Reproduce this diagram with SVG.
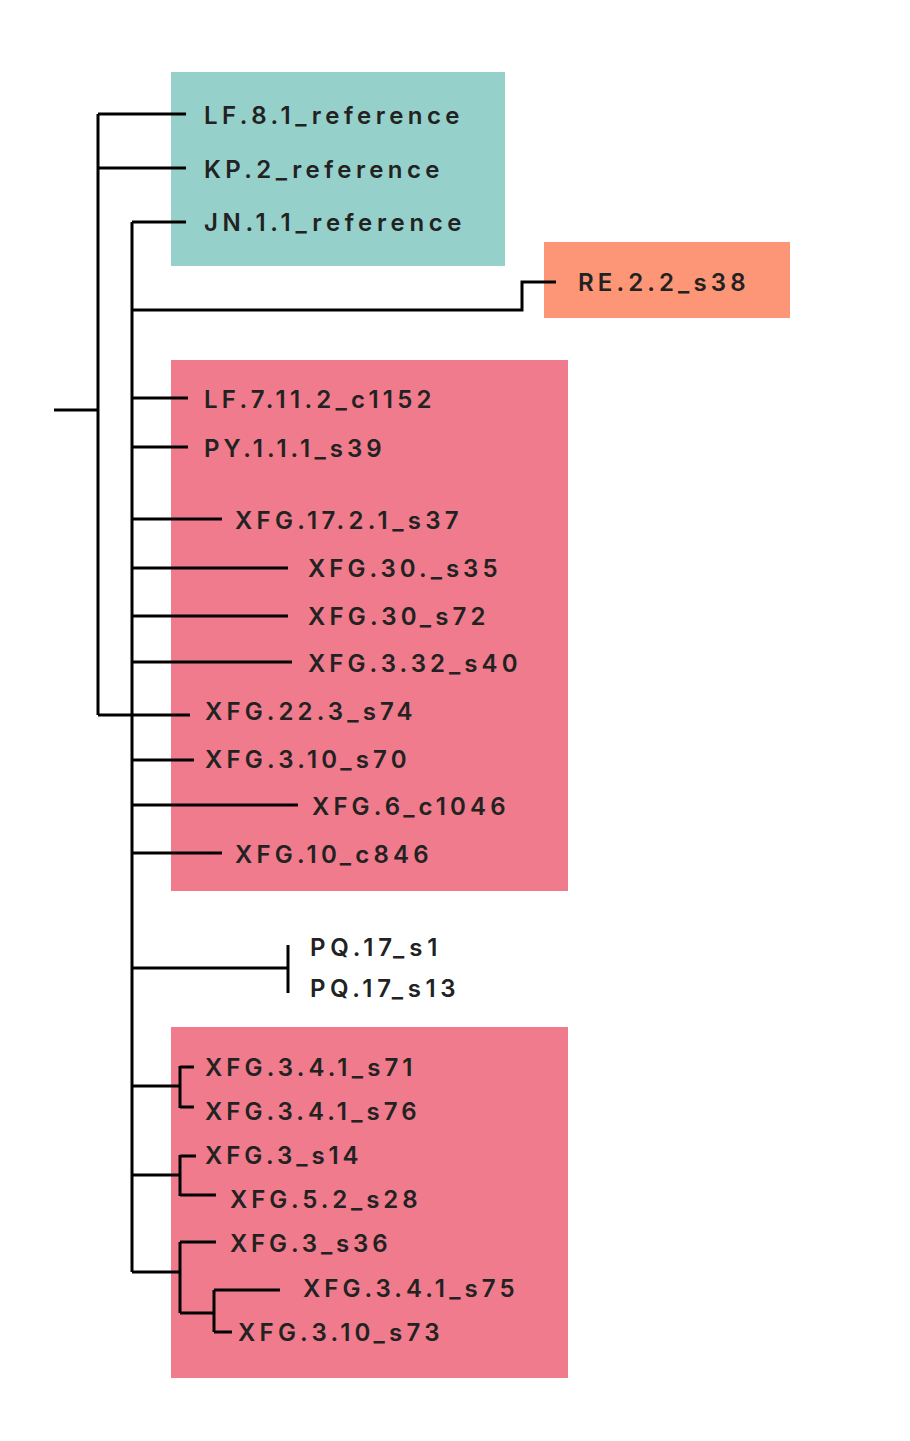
<svg xmlns="http://www.w3.org/2000/svg" width="910" height="1441" viewBox="0 0 910 1441">
<style>
.l{stroke:#000;stroke-width:3;fill:none}
text{font-family:Inter,"DejaVu Sans",sans-serif;font-size:24px;font-weight:600;fill:#222;letter-spacing:2.5px}
</style>
<rect width="910" height="1441" fill="#fff"/>
<rect x="171" y="72" width="334" height="194" fill="#96d0cb"/>
<rect x="544" y="242" width="246" height="76" fill="#fd9677"/>
<rect x="171" y="360" width="397" height="531" fill="#f07b8c"/>
<rect x="171" y="1027" width="397" height="351" fill="#f07b8c"/>
<g id="connectors">
<path class="l" d="M54 410H98M98 114V715M98 114H186M98 168H186M98 715H190M132 222V1272M132 222H186M132 310H522V282H556M132 398H188M132 447H188M132 519H222M132 568H288M132 616H288M132 662H292M132 760H194M132 805H298M132 853H222M132 968H288M288 945V993M132 1086H180M180 1066V1108M180 1067H194M180 1107H194M132 1175H180M180 1155V1196M180 1156H196M180 1195H216M132 1272H180M180 1242V1313M180 1242H216M180 1313H214M214 1290V1332M214 1290H280M214 1332H232"/>
</g>
<g id="n1"><text x="204" y="124" textLength="258">LF.8.1_reference</text></g>
<g id="n2"><text x="204" y="178" textLength="238">KP.2_reference</text></g>
<g id="n3"><text x="204" y="231" textLength="260">JN.1.1_reference</text></g>
<g id="n4"><text x="578" y="291" textLength="170">RE.2.2_s38</text></g>
<g id="n5"><text x="204" y="408" textLength="230">LF.7.11.2_c1152</text></g>
<g id="n6"><text x="204" y="457" textLength="180">PY.1.1.1_s39</text></g>
<g id="n7"><text x="235" y="529" textLength="226">XFG.17.2.1_s37</text></g>
<g id="n8"><text x="308" y="577" textLength="192">XFG.30._s35</text></g>
<g id="n9"><text x="308" y="625" textLength="180">XFG.30_s72</text></g>
<g id="n10"><text x="308" y="672" textLength="212">XFG.3.32_s40</text></g>
<g id="n11"><text x="205" y="720" textLength="210">XFG.22.3_s74</text></g>
<g id="n12"><text x="205" y="768" textLength="204">XFG.3.10_s70</text></g>
<g id="n13"><text x="312" y="815" textLength="196">XFG.6_c1046</text></g>
<g id="n14"><text x="235" y="863" textLength="196">XFG.10_c846</text></g>
<g id="n15"><text x="310" y="956" textLength="130">PQ.17_s1</text></g>
<g id="n16"><text x="310" y="997" textLength="148">PQ.17_s13</text></g>
<g id="n17"><text x="205" y="1076" textLength="210">XFG.3.4.1_s71</text></g>
<g id="n18"><text x="205" y="1120" textLength="214">XFG.3.4.1_s76</text></g>
<g id="n19"><text x="205" y="1164" textLength="156">XFG.3_s14</text></g>
<g id="n20"><text x="230" y="1208" textLength="190">XFG.5.2_s28</text></g>
<g id="n21"><text x="230" y="1252" textLength="160">XFG.3_s36</text></g>
<g id="n22"><text x="303" y="1297" textLength="214">XFG.3.4.1_s75</text></g>
<g id="n23"><text x="238" y="1341" textLength="204">XFG.3.10_s73</text></g>
</svg>
